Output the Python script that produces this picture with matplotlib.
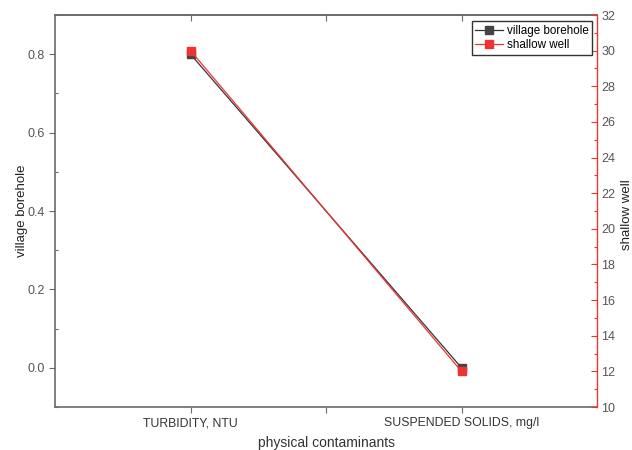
import matplotlib
matplotlib.use("Agg")
import matplotlib.pyplot as plt
from matplotlib.ticker import MultipleLocator

plt.rcParams['font.family'] = ['Liberation Sans', 'DejaVu Sans']

categories = ["TURBIDITY, NTU", "SUSPENDED SOLIDS, mg/l"]
village_borehole = [0.8, 0.0]
shallow_well = [30, 12]

x = [1, 2]
axis_grey = "#6a6a6a"
text_grey = "#555555"
red = "#ee3333"

fig = plt.figure(figsize=(6.32, 4.5), dpi=100)
ax = fig.add_axes([55 / 632, 1 - 407 / 450, (597 - 55) / 632, (407 - 15) / 450])
ax2 = ax.twinx()

l1, = ax.plot(x, village_borehole, color="#333333", lw=0.9, marker="s",
              markersize=6, markerfacecolor="#444444", markeredgecolor="#444444",
              label="village borehole", zorder=3)
l2, = ax2.plot(x, shallow_well, color=red, lw=0.9, marker="s",
               markersize=6, markerfacecolor=red, markeredgecolor=red,
               label="shallow well", zorder=3)

ax.set_xlim(0.5, 2.5)
ax.set_ylim(-0.1, 0.9)
ax2.set_ylim(10, 32)

ax.set_xticks([1, 1.5, 2])
ax.set_xticklabels([categories[0], "", categories[1]])
ax.yaxis.set_major_locator(MultipleLocator(0.2))
ax.yaxis.set_minor_locator(MultipleLocator(0.1))
ax2.yaxis.set_major_locator(MultipleLocator(2))
ax2.yaxis.set_minor_locator(MultipleLocator(1))

for s in ["left", "bottom", "top"]:
    ax.spines[s].set_color(axis_grey)
    ax.spines[s].set_linewidth(1.2)
ax.spines["right"].set_visible(False)
for s in ["left", "bottom", "top"]:
    ax2.spines[s].set_visible(False)
ax2.spines["right"].set_color(red)
ax2.spines["right"].set_linewidth(1.0)

ax.tick_params(axis="y", which="major", direction="out", length=4, width=0.8,
               color=axis_grey, labelcolor=text_grey, labelsize=9)
ax.tick_params(axis="y", which="minor", direction="in", length=2.5, width=0.8,
               color=axis_grey)
ax.tick_params(axis="x", which="major", direction="out", length=4, width=0.8,
               color=axis_grey, labelcolor="#333333", labelsize=8.8, top=False)
ax2.tick_params(axis="y", which="major", direction="in", length=4, width=0.8,
                color=red, labelcolor=text_grey, labelsize=9, pad=3)
ax2.tick_params(axis="y", which="minor", direction="in", length=2.5, width=0.8,
                color=red)

# inward ticks along the top frame
top = ax.secondary_xaxis("top")
top.set_xticks([1, 1.5, 2])
top.tick_params(direction="in", length=4, width=0.8, color=axis_grey,
                labeltop=False)
top.spines["top"].set_color(axis_grey)
top.spines["top"].set_linewidth(1.2)

ax.set_xlabel("physical contaminants", fontsize=10, color="#333333", labelpad=5)
ax.set_ylabel("village borehole", fontsize=9.5, color="#222222",
              va="center")
ax.yaxis.set_label_coords(-0.06, 0.5)
ax2.set_ylabel("shallow well", fontsize=9.5, color="#222222", va="center")
ax2.yaxis.set_label_coords(1.055, 0.49)

leg = ax2.legend(handles=[l1, l2], loc="upper right", fontsize=8.4,
                 frameon=True, fancybox=False, framealpha=1,
                 edgecolor="#333333", handlelength=2.4, borderpad=0.3,
                 labelspacing=0.2, handletextpad=0.3,
                 bbox_to_anchor=(0.995, 0.99), borderaxespad=0.2)
leg.get_frame().set_linewidth(1.0)

fig.savefig("out.png", dpi=100, facecolor="white")
